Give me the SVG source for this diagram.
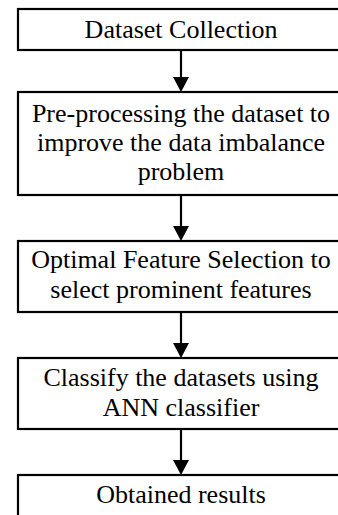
<svg xmlns="http://www.w3.org/2000/svg" width="338" height="515" viewBox="0 0 338 515">
<defs>
<style>
.box{fill:#fff;stroke:#000;stroke-width:2.2}
.t{font-family:"Liberation Serif","Times New Roman",serif;font-size:26px;fill:#000;text-anchor:middle}
.c{stroke:#000;stroke-width:2.2;fill:none}
</style>
<marker id="ah" markerUnits="userSpaceOnUse" markerWidth="17" markerHeight="16" viewBox="0 0 17 16" refX="8.5" refY="15" orient="auto-start-reverse">
<path d="M0,0 L17,0 L8.5,15 Z" fill="#000" transform="rotate(0)"/>
</marker>
</defs>
<rect width="338" height="515" fill="#fff"/>
<g id="n1"><rect class="box" x="18" y="9" width="326" height="41"/><text class="t" x="181" y="38">Dataset Collection</text></g>
<g id="n2"><rect class="box" x="18" y="92" width="326" height="103"/><text class="t" x="181" y="122">Pre-processing the dataset to</text><text class="t" x="181" y="151">improve the data imbalance</text><text class="t" x="181" y="180">problem</text></g>
<g id="n3"><rect class="box" x="18" y="241" width="326" height="71"/><text class="t" x="181" y="268">Optimal Feature Selection to</text><text class="t" x="181" y="298">select prominent features</text></g>
<g id="n4"><rect class="box" x="18" y="358" width="326" height="71"/><text class="t" x="181" y="386">Classify the datasets using</text><text class="t" x="181" y="416">ANN classifier</text></g>
<g id="n5"><rect class="box" x="18" y="475" width="326" height="60"/><text class="t" x="181" y="503">Obtained results</text></g>
<g id="connectors" fill="#000">
<line class="c" x1="181" y1="50" x2="181" y2="78"/><polygon points="173,77 189,77 181,92"/>
<line class="c" x1="181" y1="195" x2="181" y2="227"/><polygon points="173,226 189,226 181,241"/>
<line class="c" x1="181" y1="312" x2="181" y2="344"/><polygon points="173,343 189,343 181,358"/>
<line class="c" x1="181" y1="429" x2="181" y2="461"/><polygon points="173,460 189,460 181,475"/>
</g>
</svg>
